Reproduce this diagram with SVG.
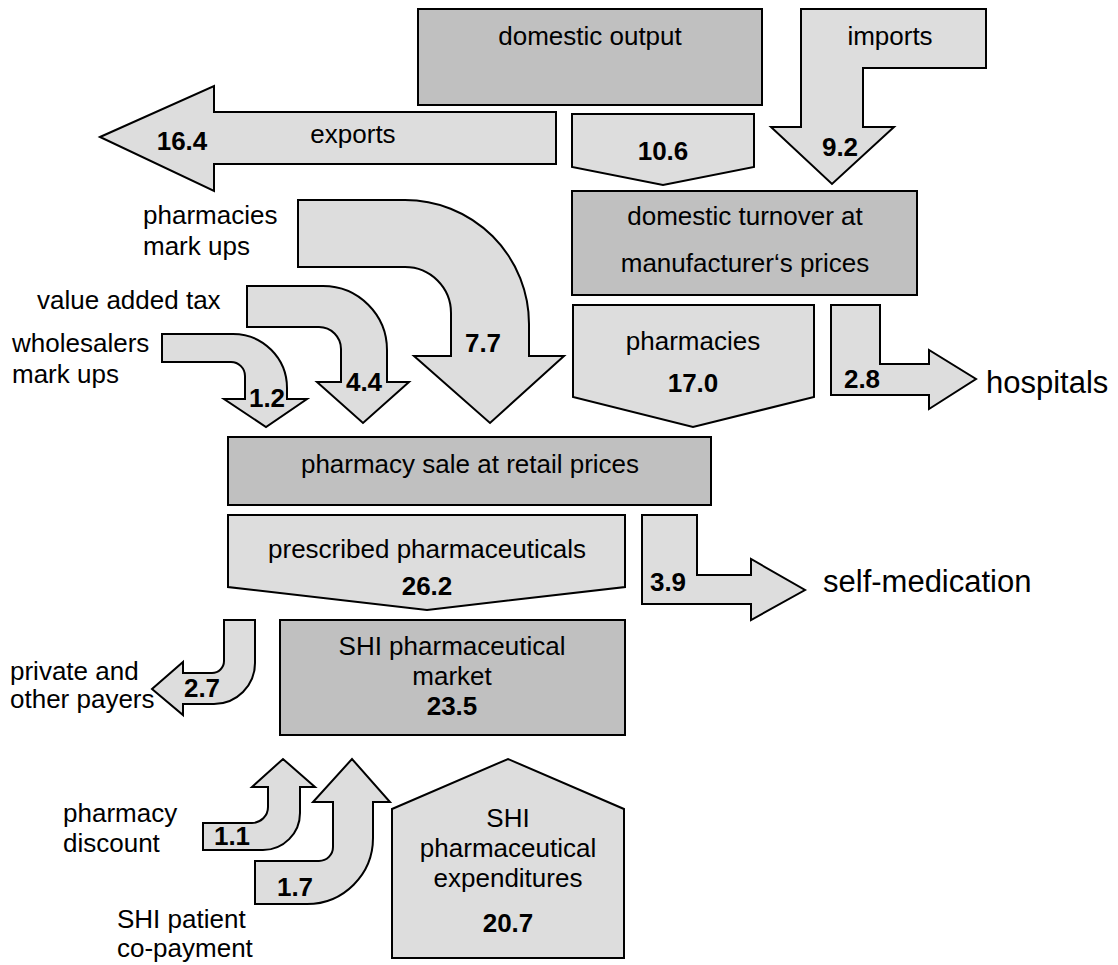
<svg xmlns="http://www.w3.org/2000/svg" width="1118" height="965" viewBox="0 0 1118 965">
<style>
.box{fill:#c0c0c0;stroke:#000;stroke-width:2}
.arr{fill:#dddddd;stroke:#000;stroke-width:2;stroke-linejoin:miter}
text{font-family:"Liberation Sans",Arial,sans-serif;font-size:26px;fill:#000}
.c{text-anchor:middle}
.b{font-weight:bold}
.big{font-size:31px}
</style>
<rect width="1118" height="965" fill="#fff"/>
<g id="domestic-output"><rect class="box" x="418" y="9" width="344" height="96"/><text class="c" x="590" y="45">domestic output</text></g>
<g id="domestic-turnover"><rect class="box" x="572" y="191" width="345" height="104"/><text class="c" x="745" y="225">domestic turnover at</text><text class="c" x="745" y="272">manufacturer‘s prices</text></g>
<g id="pharmacy-sale"><rect class="box" x="228" y="437" width="483" height="68"/><text class="c" x="470" y="473">pharmacy sale at retail prices</text></g>
<g id="shi-market"><rect class="box" x="280" y="620" width="345" height="115"/><text class="c" x="452" y="655">SHI pharmaceutical</text><text class="c" x="452" y="685">market</text><text class="c b" x="452" y="715">23.5</text></g>
<g id="connectors">
<g id="imports"><path class="arr" d="M801,9 L986,9 L986,68 L863,68 L863,127 L894,127 L832,184 L771,127 L801,127 Z"/><text class="c" x="890" y="45">imports</text><text class="c b" x="840" y="156">9.2</text></g>
<g id="exports"><path class="arr" d="M100,137 L214,86 L214,112 L556,112 L556,164 L214,164 L214,191 Z"/><text class="c b" x="182" y="150">16.4</text><text class="c" x="353" y="143">exports</text></g>
<g id="flow-10-6"><path class="arr" d="M572,114 L754,114 L754,167 L663,185 L572,167 Z"/><text class="c b" x="663" y="160">10.6</text></g>
<g id="pharmacies-flow"><path class="arr" d="M573,305 L814,305 L814,397 L693,427 L573,397 Z"/><text class="c" x="693" y="350">pharmacies</text><text class="c b" x="693" y="392">17.0</text></g>
<g id="hospitals"><path class="arr" d="M831,305 L880,305 L880,364 L929,364 L929,350 L976,379 L929,409 L929,395 L831,395 Z"/><text class="c b" x="862" y="388">2.8</text><text class="big" x="986" y="393">hospitals</text></g>
<g id="pharmacies-markups"><path class="arr" d="M298,200 L405,200 A124,124 0 0 1 529,324 L529,356 L564,356 L490,423 L414,356 L451,356 L451,313 A46,46 0 0 0 405,267 L298,267 Z"/><text x="143" y="224">pharmacies</text><text x="143" y="255">mark ups</text><text class="c b" x="483" y="352">7.7</text></g>
<g id="vat"><path class="arr" d="M247,286 L323,286 A64,64 0 0 1 387,350 L387,382 L409,382 L363,423 L317,382 L341,382 L341,349 A22,22 0 0 0 319,327 L247,327 Z"/><text x="37" y="309">value added tax</text><text class="c b" x="364" y="391">4.4</text></g>
<g id="wholesalers"><path class="arr" d="M162,334 L233,334 A54,54 0 0 1 287,388 L287,399 L307,399 L266,427 L224,399 L245,399 L245,376 A14,14 0 0 0 231,362 L162,362 Z"/><text x="12" y="352">wholesalers</text><text x="12" y="383">mark ups</text><text class="c b" x="267" y="407">1.2</text></g>
<g id="prescribed"><path class="arr" d="M228,515 L625,515 L625,587 L427,610 L228,587 Z"/><text class="c" x="427" y="558">prescribed pharmaceuticals</text><text class="c b" x="427" y="595">26.2</text></g>
<g id="self-medication"><path class="arr" d="M642,515 L697,515 L697,575 L751,575 L751,559 L805,590 L751,620 L751,604 L642,604 Z"/><text class="c b" x="668" y="591">3.9</text><text class="big" x="823" y="592">self-medication</text></g>
<g id="private"><path class="arr" d="M224,620 L255,620 L255,663 A41,41 0 0 1 214,704 L183,704 L183,715 L152,689 L183,662 L183,673 L212,673 A12,12 0 0 0 224,661 Z"/><text x="10" y="680">private and</text><text x="10" y="708">other payers</text><text class="c b" x="202" y="697">2.7</text></g>
<g id="pharmacy-discount"><path class="arr" d="M203,823 L252,823 A16,16 0 0 0 268,807 L268,787 L252,787 L283,759 L315,787 L300,787 L300,813 A37,37 0 0 1 263,850 L203,850 Z"/><text x="63" y="822">pharmacy</text><text x="63" y="852">discount</text><text class="c b" x="232" y="845">1.1</text></g>
<g id="co-payment"><path class="arr" d="M255,861 L319,861 A14,14 0 0 0 333,847 L333,802 L313,802 L352,759 L390,802 L373,802 L373,838 A66,66 0 0 1 307,904 L255,904 Z"/><text x="117" y="928">SHI patient</text><text x="117" y="957">co-payment</text><text class="c b" x="295" y="896">1.7</text></g>
</g>
<g id="shi-expenditures"><path class="arr" d="M392,809 L508,759 L624,809 L624,958 L392,958 Z"/><text class="c" x="508" y="827">SHI</text><text class="c" x="508" y="857">pharmaceutical</text><text class="c" x="508" y="887">expenditures</text><text class="c b" x="508" y="932">20.7</text></g>
</svg>
